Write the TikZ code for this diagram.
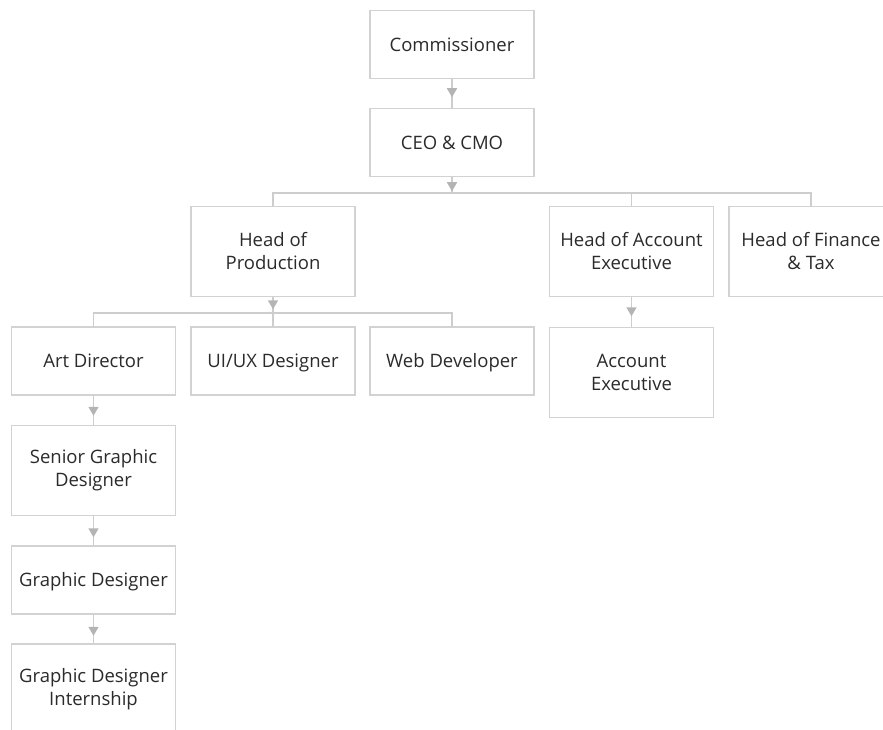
\documentclass[tikz,border=0pt]{standalone}
\usepackage{fontspec}
\setmainfont{Open Sans}
\usetikzlibrary{arrows.meta,decorations.markings}
\definecolor{boxline}{HTML}{D2D2D2}
\definecolor{conline}{HTML}{CDCDCD}
\definecolor{tipcol}{HTML}{B4B4B4}
\definecolor{txt}{HTML}{2B2B2B}
\tikzset{
  orgbox/.style={draw=boxline, line width=1.5pt, fill=white, rectangle, inner sep=0pt,
    minimum width=164pt, align=center, text=txt,
    font=\fontsize{18.5}{23}\selectfont},
  onebox/.style={orgbox, minimum height=68pt, text height=13.5pt, text depth=0pt},
  twobox/.style={orgbox, minimum height=90pt},
  conn/.style={draw=conline, line width=1.5pt},
  tipat/.style={decoration={markings, mark=at position #1 with {\arrow[tipcol]{Triangle[width=10pt,length=9pt]}}}, postaction={decorate}}
}
\begin{document}
\begin{tikzpicture}[x=1pt,y=-1pt]
\path[use as bounding box, clip] (0,0) rectangle (883,730);
\fill[white] (0,0) rectangle (883,730);
% nodes
\node[onebox] (comm) at (452,44.5) {Commissioner};
\node[onebox] (ceo) at (452,142.5) {CEO \& CMO};
\node[twobox] (hp) at (273,251.5) {Head of\\Production};
\node[twobox] (ha) at (631.5,251.5) {Head of Account\\Executive};
\node[twobox] (hf) at (811,251.5) {Head of Finance\\\& Tax};
\node[onebox] (art) at (93.5,361) {Art Director};
\node[onebox] (ui) at (273,361) {UI/UX Designer};
\node[onebox] (web) at (452,361) {Web Developer};
\node[twobox] (ae) at (631.5,372.5) {Account\\Executive};
\node[twobox] (sgd) at (93.5,470.5) {Senior Graphic\\Designer};
\node[onebox] (gd) at (93.5,580) {Graphic Designer};
\node[twobox] (gdi) at (93.5,689) {Graphic Designer\\Internship};
\coordinate (busA) at (0,193);
\coordinate (busB) at (0,313);
% connectors
\draw[conn, tipat=18pt] (comm.south) -- (ceo.south |- ceo.north);
\draw[conn, tipat=14pt] (ceo.south) -- (ceo.south |- busA);
\draw[conn] (hp.north) -- (hp.north |- busA) -- (hf.north |- busA) -- (hf.north);
\draw[conn] (ha.north) -- (ha.north |- busA);
\draw[conn, tipat=12pt] (hp.south) -- (hp.south |- busB);
\draw[conn] (art.north) -- (art.north |- busB) -- (web.north |- busB) -- (web.north);
\draw[conn] (ui.north) -- (ui.north |- busB);
\draw[conn, tipat=19pt] (ha.south) -- (ae.north);
\draw[conn, tipat=20pt] (art.south) -- (sgd.north);
\draw[conn, tipat=21pt] (sgd.south) -- (gd.north);
\draw[conn, tipat=21pt] (gd.south) -- (gdi.north);
\end{tikzpicture}
\end{document}
